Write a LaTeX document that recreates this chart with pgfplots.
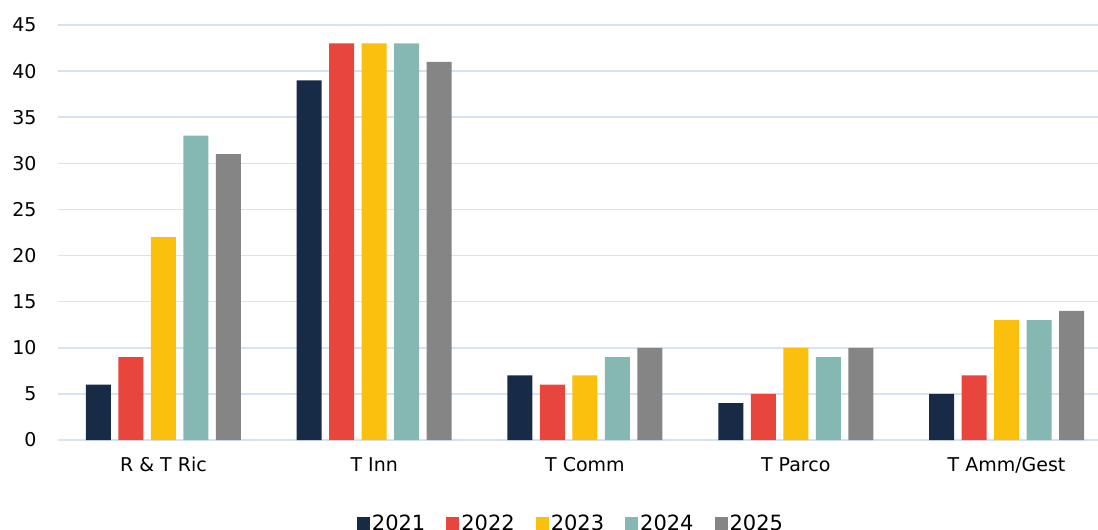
\documentclass[border=0pt]{standalone}
\usepackage{fontspec}
\setmainfont{DejaVu Sans}
\usepackage{pgfplots}
\pgfplotsset{compat=1.18}

\definecolor{c21}{HTML}{172A46}
\definecolor{c22}{HTML}{E8453C}
\definecolor{c23}{HTML}{FBBF0D}
\definecolor{c24}{HTML}{86B8B3}
\definecolor{c25}{HTML}{858585}
\definecolor{gridc}{HTML}{D6E3F2}

\begin{document}
\begin{tikzpicture}
\useasboundingbox (-58bp,-90bp) rectangle (1040bp,440bp);
\begin{axis}[
    scale only axis,
    width=1054bp, height=415bp,
    at={(0,0)}, anchor=south west,
    ybar=7.5bp, bar width=25bp,
    ymin=0, ymax=45,
    xmin=-0.5, xmax=4.5,
    xtick={0,1,2,3,4},
    xticklabels={R \& T Ric, T Inn, T Comm, T Parco, T Amm/Gest},
    ytick={0,5,...,45},
    axis line style={draw=none},
    ymajorgrids,
    grid style={gridc, line width=1.5bp},
    major tick length=0pt,
    font=\fontsize{19bp}{22bp}\selectfont,
    tick label style={font=\fontsize{19bp}{22bp}\selectfont, text=black},
    xticklabel style={yshift=-14bp},
    yticklabel style={xshift=-18bp},
    /pgf/number format/assume math mode=true,
    legend columns=5,
    legend style={at={(0.5,-0.2)}, xshift=-14bp, anchor=center, draw=none, fill=none,
        font=\fontsize{21bp}{22bp}\selectfont,
        /tikz/every even column/.append style={column sep=19bp}},
    legend image code/.code={\fill[#1] (-3bp,-6.5bp) rectangle (10bp,6.5bp);},
]
\addplot[fill=c21, draw=none] coordinates {(0,6) (1,39) (2,7) (3,4) (4,5)};
\addplot[fill=c22, draw=none] coordinates {(0,9) (1,43) (2,6) (3,5) (4,7)};
\addplot[fill=c23, draw=none] coordinates {(0,22) (1,43) (2,7) (3,10) (4,13)};
\addplot[fill=c24, draw=none] coordinates {(0,33) (1,43) (2,9) (3,9) (4,13)};
\addplot[fill=c25, draw=none] coordinates {(0,31) (1,41) (2,10) (3,10) (4,14)};
\legend{2021,2022,2023,2024,2025}
\end{axis}
\end{tikzpicture}
\end{document}
